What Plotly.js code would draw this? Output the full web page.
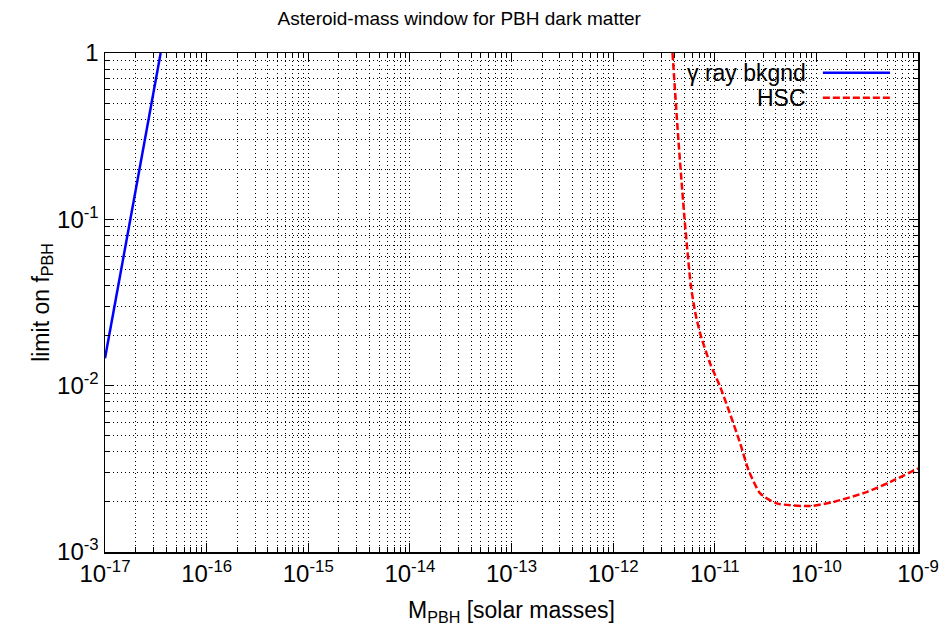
<!DOCTYPE html>
<html>
<head>
<meta charset="utf-8">
<script src="https://cdn.plot.ly/plotly-3.0.1.min.js"></script>
<style>html,body{margin:0;padding:0;background:#fff;}#chart{width:943px;height:626px;}</style>
</head>
<body>
<div id="chart"></div>
<script>
// gamma-ray background limit
var gammaMass = [1.0e-17, 3.53e-17];
var gammaLimit = [0.0146, 1.0];

// HSC microlensing limit
var hscMass = [3.84e-12, 4.40e-12, 5.04e-12, 5.81e-12, 6.41e-12, 7.18e-12, 9.0e-12, 1.13e-11,
               1.41e-11, 1.78e-11, 2.15e-11, 2.80e-11, 4.07e-11, 8.7e-11, 1.48e-10, 3.16e-10,
               5.37e-10, 1.0e-9];
var hscLimit = [1.0, 0.293, 0.1014, 0.0403, 0.0278, 0.0206, 0.0136, 0.00986,
                0.0068, 0.0045, 0.00311, 0.00225, 0.00196, 0.00189, 0.0020, 0.0023,
                0.00264, 0.00318];

var seriesNames = ['\u03b3 ray bkgnd', 'HSC'];

var xTickVals = [1e-17, 1e-16, 1e-15, 1e-14, 1e-13, 1e-12, 1e-11, 1e-10, 1e-9];
var xTickText = ['10<sup>-17</sup>', '10<sup>-16</sup>', '10<sup>-15</sup>', '10<sup>-14</sup>',
                 '10<sup>-13</sup>', '10<sup>-12</sup>', '10<sup>-11</sup>', '10<sup>-10</sup>', '10<sup>-9</sup>'];
var yTickVals = [1e-3, 1e-2, 1e-1, 1];
var yTickText = ['10<sup>-3</sup>', '10<sup>-2</sup>', '10<sup>-1</sup>', '1'];

function minorVals(lo, hi) {
  var out = [];
  for (var e = lo; e < hi; e++) {
    for (var m = 2; m <= 9; m++) out.push(m * Math.pow(10, e));
  }
  return out;
}

var FONT = "'Liberation Sans', Arial, Helvetica, sans-serif";
var gridDash = '1px,3px';

var traces = [
  {x: gammaMass, y: gammaLimit, mode: 'lines', name: seriesNames[0], showlegend: false,
   line: {color: '#0000ff', width: 2.5}},
  {x: hscMass, y: hscLimit, mode: 'lines', name: seriesNames[1], showlegend: false,
   line: {color: '#ff0000', width: 2.5, dash: '7px,3px', shape: 'spline', smoothing: 0.6}}
];

var axisCommon = {
  type: 'log',
  showline: true, linecolor: '#000', linewidth: 1.5, mirror: 'allticks',
  ticks: 'inside', ticklen: 9, tickwidth: 1, tickcolor: '#000',
  showgrid: true, gridcolor: '#000', gridwidth: 1, griddash: gridDash,
  zeroline: false, automargin: false,
  tickfont: {family: FONT, size: 24, color: '#000'},
  tickmode: 'array'
};

var layout = {
  width: 943, height: 626,
  margin: {l: 105, r: 25, t: 53, b: 74},
  paper_bgcolor: '#fff', plot_bgcolor: '#fff',
  font: {family: FONT, color: '#000', size: 24},
  title: {text: 'Asteroid-mass window for PBH dark matter', font: {family: FONT, size: 19, color: '#000'},
          x: 0.487, xanchor: 'center', y: 0.971, yanchor: 'middle'},
  showlegend: false,
  xaxis: Object.assign({}, axisCommon, {
    range: [-17, -9], tickvals: xTickVals, ticktext: xTickText,
    title: {text: 'M<sub>PBH</sub> [solar masses]', font: {family: FONT, size: 23, color: '#000'}},
    minor: {tickmode: 'array', tickvals: minorVals(-17, -9), ticks: 'inside', ticklen: 5, tickcolor: '#000',
            showgrid: true, gridcolor: '#000', gridwidth: 1, griddash: gridDash}
  }),
  yaxis: Object.assign({}, axisCommon, {
    range: [-3, 0], tickvals: yTickVals, ticktext: yTickText,
    title: {text: 'limit on f<sub>PBH</sub>', font: {family: FONT, size: 23, color: '#000'}},
    minor: {tickmode: 'array', tickvals: minorVals(-3, 0), ticks: 'inside', ticklen: 5, tickcolor: '#000',
            showgrid: true, gridcolor: '#000', gridwidth: 1, griddash: gridDash}
  }),
  shapes: [
    {type: 'rect', xref: 'paper', yref: 'paper', x0: 0.670, x1: 0.9865, y0: 0.8798, y1: 0.98,
     fillcolor: '#fff', line: {width: 0}, layer: 'between'},
    {type: 'line', xref: 'paper', yref: 'paper', x0: 0.883, x1: 0.9656, y0: 0.9605, y1: 0.9605,
     line: {color: '#0000ff', width: 2.5}, layer: 'above'},
    {type: 'line', xref: 'paper', yref: 'paper', x0: 0.883, x1: 0.9656, y0: 0.9104, y1: 0.9104,
     line: {color: '#ff0000', width: 2.5, dash: '7px,3px'}, layer: 'above'}
  ],
  annotations: [
    {text: seriesNames[0], xref: 'paper', yref: 'paper', x: 0.8647, y: 0.9605, xanchor: 'right', yanchor: 'middle',
     showarrow: false, font: {family: FONT, size: 23, color: '#000'}},
    {text: seriesNames[1], xref: 'paper', yref: 'paper', x: 0.8647, y: 0.9104, xanchor: 'right', yanchor: 'middle',
     showarrow: false, font: {family: FONT, size: 23, color: '#000'}}
  ]
};

Plotly.newPlot('chart', traces, layout, {staticPlot: true, displayModeBar: false});
</script>
</body>
</html>
